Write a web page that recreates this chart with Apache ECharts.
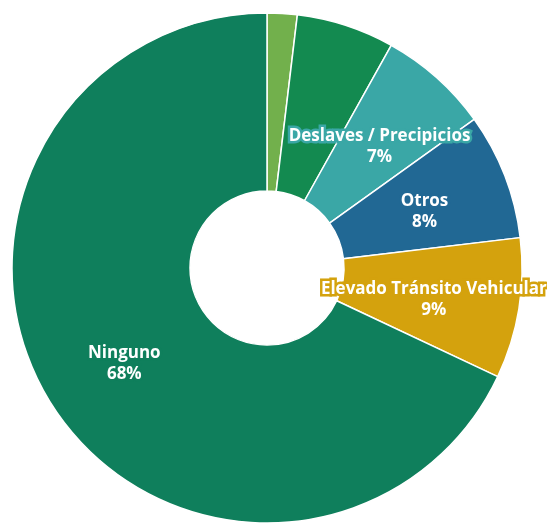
<!DOCTYPE html>
<html>
<head>
<meta charset="utf-8">
<script src="https://cdn.jsdelivr.net/npm/echarts@6/dist/echarts.min.js"></script>
<style>
html,body{margin:0;padding:0;background:#fff;}
#chart{width:547px;height:523px;}
</style>
</head>
<body>
<div id="chart"></div>
<script>
var categories = ['Baches', 'Inundaciones', 'Deslaves / Precipicios', 'Otros', 'Elevado Tránsito Vehicular', 'Ninguno'];
var values = [1.9, 6.2, 7.0, 8.0, 8.9, 68.0];
var colors = ['#72b04c', '#138a50', '#3aa7a6', '#216894', '#d4a20d', '#0f7f5c'];
var showLabel = [false, false, true, true, true, true];

var chart = echarts.init(document.getElementById('chart'));
var data = categories.map(function (c, i) {
  return {
    name: c,
    value: values[i],
    itemStyle: { color: colors[i] },
    label: { show: showLabel[i], textBorderColor: colors[i] }
  };
});
chart.setOption({
  animation: false,
  series: [{
    type: 'pie',
    center: [267, 268],
    radius: [77, 255],
    startAngle: 90,
    clockwise: true,
    itemStyle: { borderColor: '#ffffff', borderWidth: 1.5 },
    label: {
      position: 'inside',
      color: '#ffffff',
      fontFamily: 'Open Sans',
      fontWeight: 'bold',
      fontSize: 17,
      lineHeight: 21,
      textBorderWidth: 5,
      offset: [0, 5],
      formatter: function (p) { return p.name + '\n' + Math.round(p.percent) + '%'; }
    },
    labelLine: { show: false },
    data: data
  }]
});
</script>
</body>
</html>
